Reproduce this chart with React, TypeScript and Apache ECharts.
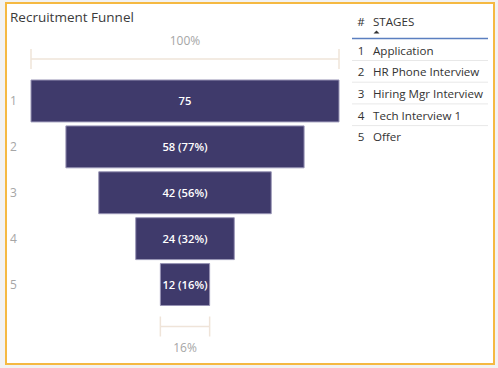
import React, { useEffect, useRef } from "react";
import * as echarts from "echarts";

const title = "Recruitment Funnel";
const stageNums = ["1", "2", "3", "4", "5"];
const stages = ["Application", "HR Phone Interview", "Hiring Mgr Interview", "Tech Interview 1", "Offer"];
const values = [75, 58, 42, 24, 12];
const tableHeaders = ["#", "STAGES"];

const FONT = "'Segoe UI', 'Open Sans', sans-serif";

export default function App() {
  const ref = useRef<HTMLDivElement>(null);
  useEffect(() => {
    if (!ref.current) return;
    const chart = echarts.init(ref.current, undefined, { renderer: "svg" });
    const maxV = Math.max(...values);
    const first = values[0];
    const last = values.length - 1;
    const pct = (v: number) => Math.round((v / first) * 100);

    const bracketColor = "#efe4d9";
    const renderItem = (params: any, api: any) => {
      const v = api.value(0);
      const idx = api.value(1);
      const l = api.coord([-v / 2, idx]);
      const r = api.coord([v / 2, idx]);
      const band = api.size([0, 1])[1];
      const h = band * 0.913;
      const cx = (l[0] + r[0]) / 2;
      const top = l[1] - h / 2;
      const bottom = l[1] + h / 2;
      const label = idx === 0 ? `${v}` : `${v} (${pct(v)}%)`;
      const children: any[] = [
        {
          type: "rect",
          shape: { x: l[0], y: top, width: r[0] - l[0], height: h },
          style: { fill: "#3f3a6b", stroke: "#9894b5", lineWidth: 1 },
        },
        {
          type: "text",
          style: {
            text: label,
            x: cx,
            y: l[1],
            align: "center",
            verticalAlign: "middle",
            fill: "#ffffff",
            font: `600 11.2px ${FONT}`,
          },
        },
      ];
      const bracket = (y: number, textY: number, text: string) => {
        children.push(
          { type: "line", shape: { x1: l[0], y1: y, x2: r[0], y2: y }, style: { stroke: bracketColor, lineWidth: 1.5 } },
          { type: "line", shape: { x1: l[0], y1: y - 10, x2: l[0], y2: y + 10 }, style: { stroke: bracketColor, lineWidth: 1.5 } },
          { type: "line", shape: { x1: r[0], y1: y - 10, x2: r[0], y2: y + 10 }, style: { stroke: bracketColor, lineWidth: 1.5 } },
          {
            type: "text",
            style: {
              text,
              x: cx,
              y: textY,
              align: "center",
              verticalAlign: "middle",
              fill: "#a6a6a6",
              font: `12px ${FONT}`,
            },
          }
        );
      };
      if (idx === 0) bracket(top - 21, top - 39, `${pct(v)}%`);
      if (idx === last) bracket(bottom + 21, bottom + 42, `${pct(v)}%`);
      return { type: "group", children };
    };

    const rowY0 = 50;
    const rowStep = 21.7;
    const tableFont = `11.6px ${FONT}`;
    const graphics: any[] = [
      {
        type: "text",
        style: { text: title, x: 10, y: 17, verticalAlign: "middle", fill: "#3b3b3b", font: `13.5px ${FONT}` },
      },
      {
        type: "text",
        style: { text: tableHeaders[0], x: 361, y: 21, align: "center", verticalAlign: "middle", fill: "#333", font: tableFont },
      },
      {
        type: "text",
        style: { text: tableHeaders[1], x: 373, y: 21, verticalAlign: "middle", fill: "#333", font: tableFont },
      },
      {
        type: "polygon",
        shape: { points: [[373.5, 33.5], [379.5, 33.5], [376.5, 30.5]] },
        style: { fill: "#333" },
      },
      {
        type: "line",
        shape: { x1: 352, y1: 38.5, x2: 488, y2: 38.5 },
        style: { stroke: "#5b7fc0", lineWidth: 1.5 },
      },
    ];
    stages.forEach((s, i) => {
      const y = rowY0 + i * rowStep;
      graphics.push(
        {
          type: "text",
          style: { text: stageNums[i], x: 361, y, align: "center", verticalAlign: "middle", fill: "#333", font: tableFont },
        },
        {
          type: "text",
          style: { text: s, x: 373, y, verticalAlign: "middle", fill: "#333", font: tableFont },
        }
      );
      if (i < stages.length - 1) {
        graphics.push({
          type: "line",
          shape: { x1: 352, y1: y + 10.5, x2: 488, y2: y + 10.5 },
          style: { stroke: "#e8e8e8", lineWidth: 1 },
        });
      }
    });

    chart.setOption({
      animation: false,
      grid: { left: 31, right: 159, top: 78, bottom: 60.5 },
      xAxis: { type: "value", min: -maxV / 2, max: maxV / 2, show: false },
      yAxis: {
        type: "category",
        data: stageNums,
        inverse: true,
        axisLine: { show: false },
        axisTick: { show: false },
        splitLine: { show: false },
        axisLabel: { color: "#a6a6a6", fontSize: 12, fontFamily: FONT, align: "left", margin: 21 },
      },
      graphic: graphics,
      series: [
        {
          type: "custom",
          renderItem,
          clip: false,
          encode: { x: 0, y: 1 },
          data: values.map((v, i) => [v, i]),
        },
      ],
    });
    return () => chart.dispose();
  }, []);

  return (
    <div style={{ position: "fixed", left: 0, top: 0, width: 498, height: 368, background: "#f2f2f2" }}>
      <div
        style={{
          position: "absolute",
          left: 5,
          top: 2,
          width: 490,
          height: 363,
          boxSizing: "border-box",
          border: "2px solid #f5b942",
          background: "#ffffff",
        }}
      />
      <div ref={ref} style={{ position: "absolute", left: 0, top: 0, width: 498, height: 368 }} />
    </div>
  );
}
